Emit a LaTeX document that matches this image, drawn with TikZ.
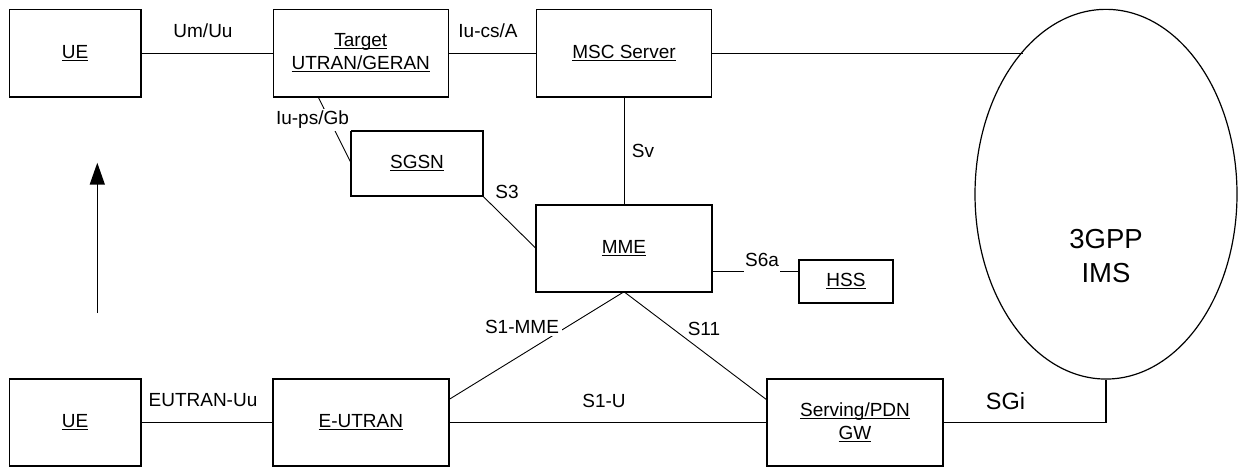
\documentclass[tikz,border=0pt]{standalone}
\usepackage{fontspec}
\setmainfont{Liberation Sans}
\usetikzlibrary{shapes.geometric,arrows.meta}
\newcommand\ulx[1]{\setbox0=\hbox{#1}\rlap{\rule[-2.4pt]{\wd0}{1.1pt}}\box0}
\tikzset{
  box/.style={draw, line width=1.6pt, inner sep=0pt, outer sep=0pt, align=center,
    font=\fontsize{19}{23}\selectfont},
  link/.style={line width=0.9pt},
  lbl/.style={font=\fontsize{19}{23}\selectfont, inner sep=2pt},
  lblw/.style={lbl, fill=white},
}
\begin{document}
\begin{tikzpicture}[x=1pt,y=-1pt]
\useasboundingbox (0,0) rectangle (1239,466);
% boxes
\node[box, minimum width=131.4, minimum height=87.4] (ue1) at (75,53) {\ulx{UE}};
\node[box, minimum width=175, minimum height=87.4] (tgt) at (360.8,53) {\ulx{Target}\\\ulx{UTRAN/GERAN}};
\node[box, minimum width=175, minimum height=87.4] (msc) at (624,53) {\ulx{MSC Server}};
\node[box, minimum width=131.6, minimum height=65.3] (sgsn) at (417,163.4) {\ulx{SGSN}};
\node[box, minimum width=176, minimum height=86.7] (mme) at (624,248.4) {\ulx{MME}};
\node[box, line width=1.4pt, minimum width=94, minimum height=43] (hss) at (846,281.5) {\ulx{HSS}};
\node[box, minimum width=131.4, minimum height=87] (ue2) at (75,422.4) {\ulx{UE}};
\node[box, minimum width=176, minimum height=87] (eut) at (360.8,422.4) {\ulx{E-UTRAN}};
\node[box, minimum width=176, minimum height=87] (serv) at (855,422.4) {\ulx{Serving/PDN}\\\ulx{GW}};
\node[draw, ellipse, line width=1.2pt, inner sep=0pt, minimum width=262, minimum height=369.7] (ims) at (1106,194.2) {};
\node[font=\fontsize{27.5}{34}\selectfont, align=center, inner sep=0pt] (imstext) at (1106,256) {3GPP\\IMS};
% connectors
\draw[link] (ue1) -- (tgt);
\draw[link] (tgt) -- (msc);
\draw[link] (msc.east) -- (msc.east -| ims.120.9);
\draw[link] (msc) -- (mme);
\draw[link] ([xshift=-42.8pt]tgt.south) -- (sgsn.west);
\draw[link] (sgsn.south east) -- (mme.west);
\draw[link] (mme.east |- 0,271) -- (hss.west |- 0,271);
\draw[link] (mme.south) -- ([yshift=22.8pt]eut.east);
\draw[link] (mme.south) -- ([yshift=22.4pt]serv.west);
\draw[link] (ue2) -- (eut);
\draw[link] (eut) -- (serv);
\draw[line width=1.4pt] (serv.east) -| (ims.south);
% labels
\node[lbl] (lumuu) at (203,31) {Um/Uu};
\node[lbl] (liucs) at (488,31) {Iu-cs/A};
\node[lblw] (liups) at (312.5,120) {Iu-ps/Gb};
\node[lbl] (lsv) at (643,151) {Sv};
\node[lbl] (ls3) at (507,192) {S3};
\node[lbl, fill=white, inner xsep=1.5pt, inner ysep=6pt] (ls6a) at (762,260) {S6a};
\node[lblw, inner sep=3pt] (ls1mme) at (522,326.5) {S1-MME};
\node[lblw] (ls11) at (704,328.5) {S11};
\node[lbl] (leuu) at (203,400) {EUTRAN-Uu};
\node[lbl] (ls1u) at (604,401) {S1-U};
\node[font=\fontsize{23.5}{28}\selectfont, inner sep=0pt] (lsgi) at (1005.5,401.5) {SGi};
% arrow
\coordinate (arrB) at (97.3,313);
\coordinate (arrT) at (97.3,162.7);
\draw[line width=1.5pt, -{Triangle[width=15pt,length=22pt]}] (arrB) -- (arrT);
\end{tikzpicture}
\end{document}
